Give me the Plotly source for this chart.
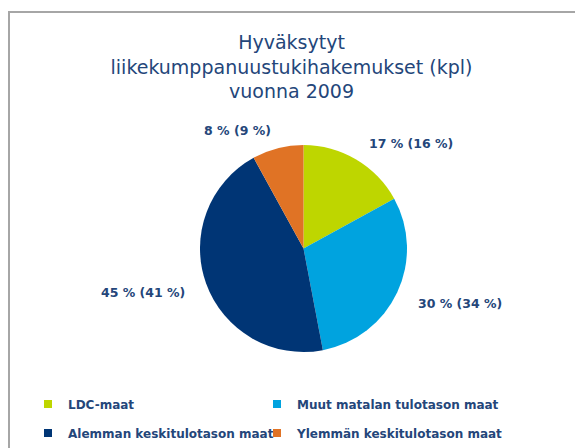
import math
import plotly.graph_objects as go

categories = ["LDC-maat", "Muut matalan tulotason maat",
              "Alemman keskitulotason maat", "Ylemmän keskitulotason maat"]
share_2009 = [17, 30, 45, 8]
share_prev = [16, 34, 41, 9]
colors = ["#BED600", "#00A3DF", "#003575", "#E07325"]

W, H = 583, 448
OFF = 8  # page body margin of the rendered html
TXT = "#24467A"
FONT = "DejaVu Sans"

cx, cy, R = 303.5 - OFF, 248.5 - OFF, 103.5  # pixel centre/radius of pie
dom_x = [(cx - R) / W, (cx + R) / W]
dom_y = [(H - cy - R) / H, (H - cy + R) / H]

fig = go.Figure()
fig.add_trace(go.Pie(
    labels=categories, values=share_2009, sort=False, direction="clockwise",
    rotation=0, marker=dict(colors=colors, line=dict(width=0)),
    textinfo="none", hoverinfo="label+percent", domain=dict(x=dom_x, y=dom_y),
    showlegend=False,
))

# legend entries (square swatches) for the slices, laid out in a 2x2 grid
legend_names = ["legend", "legend2", "legend3", "legend4"]
for name, col, lg in zip(categories, colors, legend_names):
    fig.add_trace(go.Scatter(
        x=[None], y=[None], mode="markers", name=name, legend=lg,
        marker=dict(symbol="square", size=8, color=col), hoverinfo="skip",
    ))

# value labels around the pie, placed along each slice's mid-angle
total = sum(share_2009)
acc = 0
annotations = []
for v, p in zip(share_2009, share_prev):
    mid = (acc + v / 2) / total * 2 * math.pi
    acc += v
    r = 1.2 * R
    px = cx + r * math.sin(mid)
    py = cy - r * math.cos(mid) + 2
    right = math.sin(mid) > 0
    annotations.append(dict(
        x=px / W, y=1 - py / H, xref="paper", yref="paper",
        text=f"<b>{v} % ({p} %)</b>", showarrow=False,
        xanchor="left" if right else "right", yanchor="middle",
        font=dict(family=FONT, size=12.5, color=TXT),
    ))

leg_common = dict(orientation="h", xanchor="left", yanchor="middle",
                  font=dict(family=FONT, size=12, color=TXT, weight="bold"),
                  bgcolor="rgba(0,0,0,0)")
col_x = [68, 297, 68, 297]     # page x of legend text
row_y = [404, 404, 433, 433]   # page y of legend rows
legend_layout = {
    lg: dict(x=(tx - 40 - OFF) / W, y=1 - (ty - OFF) / H, **leg_common)
    for lg, tx, ty in zip(legend_names, col_x, row_y)
}

fig.update_layout(
    width=W, height=H, margin=dict(l=0, r=0, t=0, b=0),
    paper_bgcolor="white", plot_bgcolor="white",
    xaxis=dict(visible=False), yaxis=dict(visible=False),
    title=dict(text="Hyväksytyt<br>liikekumppanuustukihakemukset (kpl)<br>vuonna 2009",
               x=(291.5 - OFF) / W, xanchor="center", y=1 - (49 - OFF) / H, yanchor="middle",
               font=dict(family=FONT, size=19, color=TXT)),
    annotations=annotations,
    shapes=[dict(type="rect", xref="paper", yref="paper",
                 x0=(8 - OFF + 1) / W, x1=1 + 10 / W, y0=-10 / H, y1=1 - (11 - OFF + 1) / H,
                 line=dict(color="#A6A6A6", width=2))],
    **legend_layout,
)

fig.write_html("out.html")
